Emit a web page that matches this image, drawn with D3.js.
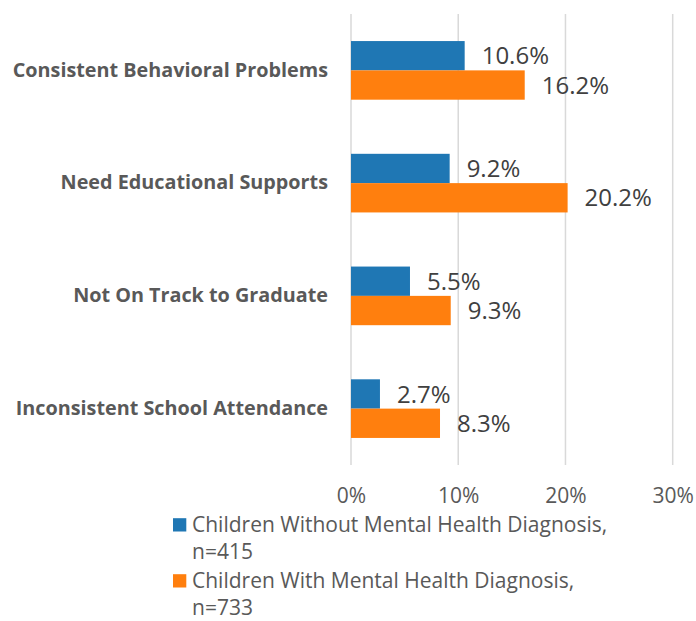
<!DOCTYPE html>
<html>
<head>
<meta charset="utf-8">
<script src="https://cdn.jsdelivr.net/npm/d3@7"></script>
<style>
  html, body { margin: 0; padding: 0; background: #fff; }
  svg { display: block; font-family: "Open Sans", sans-serif; }
</style>
</head>
<body>
<svg id="chart" width="696" height="621"></svg>
<script>
// Outcomes by group
const categories = [
  "Consistent Behavioral Problems",
  "Need Educational Supports",
  "Not On Track to Graduate",
  "Inconsistent School Attendance"
];
const seriesNames = ["without", "with"];
const withoutDiagnosis = [10.6, 9.2, 5.5, 2.7];
const withDiagnosis = [16.2, 20.2, 9.3, 8.3];
const tickValues = [0, 10, 20, 30];
const legendLines = [
  ["Children Without Mental Health Diagnosis,", "n=415"],
  ["Children With Mental Health Diagnosis,", "n=733"]
];
const colors = ["#1f77b4", "#ff7f0e"];

const svg = d3.select("#chart");
const textColor = "#595959";

const x = d3.scaleLinear().domain([0, 30]).range([351, 672.7]);
const y = d3.scaleBand().domain(categories).range([14, 465])
  .paddingInner(0.48).paddingOuter(0.24);
const ySub = d3.scaleBand().domain(seriesNames).range([0, y.bandwidth()]);

// vertical gridlines
svg.append("g")
  .selectAll("line")
  .data(tickValues)
  .join("line")
  .attr("x1", d => x(d)).attr("x2", d => x(d))
  .attr("y1", 14).attr("y2", 465)
  .attr("stroke", "#d9d9d9")
  .attr("stroke-width", 1.5);

// x tick labels
const xAxis = d3.axisBottom(x).tickValues(tickValues).tickFormat(d => d + "%").tickSize(0).tickPadding(0);
const gx = svg.append("g").attr("transform", "translate(0,488)").call(xAxis);
gx.select(".domain").remove();
gx.selectAll("text")
  .attr("dy", "0.71em")
  .attr("font-family", "Open Sans, sans-serif")
  .attr("font-size", 21)
  .attr("fill", textColor);

// category labels
const yAxis = d3.axisLeft(y).tickSize(0).tickPadding(0);
const gy = svg.append("g").attr("transform", "translate(328,0)").call(yAxis);
gy.select(".domain").remove();
gy.selectAll("text")
  .attr("font-family", "Open Sans, sans-serif")
  .attr("font-weight", "bold")
  .attr("font-size", 19.8)
  .attr("fill", textColor);

// bars and value labels
const rows = categories.map((c, i) => ({
  category: c,
  values: [
    { key: "without", value: withoutDiagnosis[i], color: colors[0] },
    { key: "with", value: withDiagnosis[i], color: colors[1] }
  ]
}));

const groups = svg.append("g").selectAll("g")
  .data(rows)
  .join("g")
  .attr("transform", d => `translate(0,${y(d.category)})`);

groups.selectAll("rect")
  .data(d => d.values)
  .join("rect")
  .attr("x", x(0))
  .attr("y", d => ySub(d.key))
  .attr("width", d => x(d.value) - x(0))
  .attr("height", ySub.bandwidth())
  .attr("fill", d => d.color);

groups.selectAll("text")
  .data(d => d.values)
  .join("text")
  .attr("x", d => x(d.value) + 17)
  .attr("y", d => ySub(d.key) + ySub.bandwidth() / 2)
  .attr("dy", "0.36em")
  .attr("font-size", 24)
  .attr("fill", "#404040")
  .text(d => d.value.toFixed(1) + "%");

// legend
const legend = svg.append("g");
const legendTop = [531.5, 587.5];
legendLines.forEach((lines, i) => {
  legend.append("rect")
    .attr("x", 173).attr("y", legendTop[i] - 13.3)
    .attr("width", 13.3).attr("height", 13.3)
    .attr("fill", colors[i]);
  const t = legend.append("text")
    .attr("x", 192).attr("y", legendTop[i])
    .attr("font-size", 21)
    .attr("fill", textColor);
  lines.forEach((ln, j) => {
    t.append("tspan").attr("x", 192).attr("dy", j === 0 ? 0 : 27.3).text(ln);
  });
});
</script>
</body>
</html>
